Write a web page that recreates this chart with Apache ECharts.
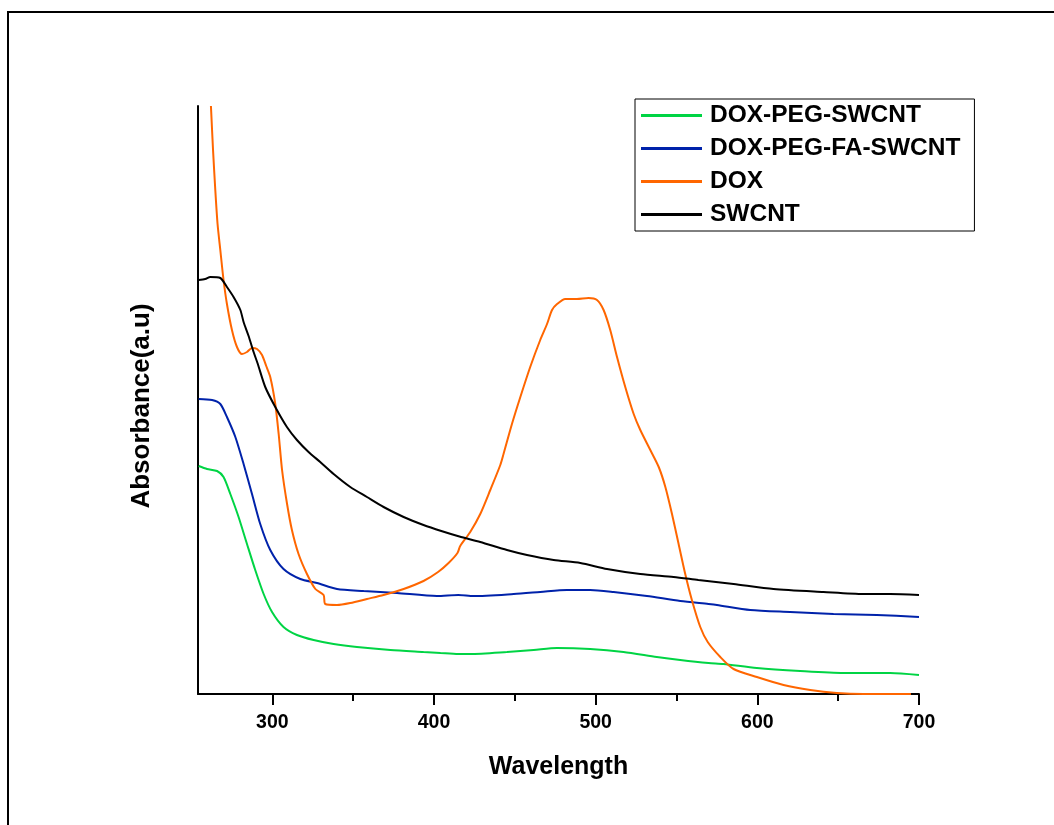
<!DOCTYPE html>
<html>
<head>
<meta charset="utf-8">
<script src="https://cdn.jsdelivr.net/npm/echarts@6/dist/echarts.min.js"></script>
<style>
html,body{margin:0;padding:0;background:#fff;}
#chart{width:1054px;height:825px;}
</style>
</head>
<body>
<div id="chart"></div>
<script>
// ---- data ----
const seriesNames = ['DOX-PEG-SWCNT', 'DOX-PEG-FA-SWCNT', 'DOX', 'SWCNT'];
const xTickLabels = [300, 400, 500, 600, 700];
const xMinorTicks = [350, 450, 550, 650];

const pegW = [254.4,259.6,265.8,269.8,274.0,279.1,284.3,289.4,294.6,299.8,306.9,315.2,325.5,337.9,352.3,373.0,393.5,404,415,422.4,445.1,461.6,476.1,496.6,517.2,537.8,552.3,569.8,579.1,599.7,626.5,653.3,682.2,700];
const pegA = [2.28,2.25,2.23,2.17,2.00,1.77,1.50,1.24,1.00,0.82,0.67,0.59,0.54,0.50,0.47,0.44,0.42,0.41,0.40,0.40,0.42,0.44,0.46,0.45,0.42,0.37,0.34,0.31,0.30,0.26,0.23,0.21,0.21,0.19];

const faW = [254.4,262.7,267.8,271.9,277.1,282.2,287.4,292.5,298.7,306.9,317.3,327.6,340.0,356.5,377.1,401.8,415,424.5,449.3,465.7,482.2,496.6,511.1,531.7,552.3,569.8,575.0,595.6,620.3,647.1,673.9,700];
const faA = [2.95,2.94,2.90,2.77,2.57,2.30,2.00,1.70,1.44,1.25,1.15,1.11,1.05,1.03,1.01,0.98,0.99,0.98,1.00,1.02,1.04,1.04,1.02,0.98,0.93,0.90,0.89,0.84,0.82,0.80,0.79,0.77];

const doxW = [262.0,263.3,264.7,266.1,267.8,269.8,271.9,275.0,278.1,281.2,284.3,287.4,290.5,293.6,296.2,298.7,301.8,303.9,306.0,309.1,312.1,316.2,321.4,326.6,331.7,332.7,340.0,348.2,358.5,368.8,381.2,393.5,402.5,409,414.5,416.2,422.4,428.6,434.8,441.0,443.0,448.2,453.4,459.5,465.7,469.9,473.0,476.1,481.2,488.4,495.6,500.8,504.9,509.0,513.2,518.3,523.5,527.6,533.8,539.0,543.1,547.2,551.3,555.4,559.5,564.7,569.3,577.1,585.3,599.7,616.2,632.7,649.2,665.7,682.0,695.0];
const doxA = [5.88,5.44,5.04,4.70,4.44,4.14,3.90,3.64,3.47,3.40,3.42,3.46,3.45,3.39,3.28,3.17,2.90,2.60,2.24,1.90,1.64,1.40,1.20,1.05,0.99,0.90,0.89,0.91,0.95,0.99,1.05,1.13,1.22,1.31,1.41,1.48,1.62,1.80,2.04,2.29,2.40,2.70,2.97,3.27,3.54,3.70,3.84,3.90,3.95,3.95,3.96,3.94,3.84,3.64,3.37,3.07,2.80,2.64,2.44,2.27,2.07,1.80,1.50,1.20,0.94,0.67,0.52,0.37,0.25,0.17,0.09,0.04,0.01,0.00,0.00,0.00];

const swW = [254.4,258.5,261.6,267.8,271.9,276.0,280.2,282.2,285.3,288.4,291.0,295.6,301.8,309.0,315.2,322.4,329.6,337.9,348.2,358.5,368.8,381.2,393.5,404.5,415.7,428.6,445.1,457.5,474.0,490.5,507.0,527.6,548.2,563.5,585.3,610.0,640.9,665.7,682.2,700];
const swA = [4.14,4.15,4.17,4.16,4.07,3.97,3.84,3.72,3.58,3.42,3.30,3.07,2.87,2.67,2.54,2.42,2.32,2.20,2.07,1.97,1.87,1.77,1.69,1.63,1.575,1.52,1.44,1.39,1.34,1.31,1.25,1.20,1.17,1.14,1.10,1.05,1.02,1.00,1.00,0.99];

const xMin = 254, xMax = 700, yMin = 0, yMax = 5.88;

function zip(w, a) { return w.map((x, i) => [x, a[i]]); }

const colors = ['#00d444', '#0022aa', '#ff6600', '#000000'];
const dataSets = [zip(pegW, pegA), zip(faW, faA), zip(doxW, doxA), zip(swW, swA)];

const FONT = '"Liberation Sans", Arial, sans-serif';

const chart = echarts.init(document.getElementById('chart'), null, {renderer: 'canvas'});
chart.setOption({
  animation: false,
  backgroundColor: '#ffffff',
  grid: {left: 198, right: 135, top: 106, bottom: 131, containLabel: false},
  legend: {
    orient: 'vertical',
    left: 635, top: 99,
    padding: [0, 14, 0, 6],
    itemGap: 0,
    itemWidth: 61, itemHeight: 3,
    icon: 'rect',
    borderColor: '#000', borderWidth: 1,
    selectedMode: false,
    data: seriesNames,
    textStyle: {fontFamily: FONT, fontSize: 24.5, fontWeight: 'bold', color: '#000', lineHeight: 33, padding: [0, 0, 0, 3]}
  },
  xAxis: [{
    type: 'value', min: xMin, max: xMax,
    name: 'Wavelength', nameLocation: 'middle', nameGap: 61,
    nameTextStyle: {fontFamily: FONT, fontSize: 25, fontWeight: 'bold', color: '#000'},
    axisLine: {show: true, onZero: false, lineStyle: {color: '#000', width: 2}},
    axisTick: {show: true, inside: false, length: 11, lineStyle: {color: '#000', width: 2}, customValues: xTickLabels},
    axisLabel: {show: true, margin: 19, customValues: xTickLabels, fontFamily: FONT, fontSize: 19.5, fontWeight: 'bold', color: '#000'},
    splitLine: {show: false}
  }, {
    type: 'value', min: xMin, max: xMax, position: 'bottom', gridIndex: 0,
    axisLine: {show: false},
    axisTick: {show: true, inside: false, length: 7, lineStyle: {color: '#000', width: 2}, customValues: xMinorTicks},
    axisLabel: {show: false},
    splitLine: {show: false}
  }],
  yAxis: {
    type: 'value', min: yMin, max: yMax,
    name: 'Absorbance(a.u)', nameLocation: 'middle', nameGap: 43,
    nameTextStyle: {fontFamily: FONT, fontSize: 26, fontWeight: 'bold', color: '#000', padding: [0, 12, 0, 0]},
    axisLine: {show: true, onZero: false, lineStyle: {color: '#000', width: 2}},
    axisTick: {show: false},
    axisLabel: {show: false},
    splitLine: {show: false}
  },
  series: seriesNames.map((n, i) => ({
    name: n, type: 'line', xAxisIndex: 0,
    data: dataSets[i],
    showSymbol: false, symbol: 'none',
    smooth: 0.25,
    clip: true,
    color: colors[i],
    lineStyle: {color: colors[i], width: 2}
  })),
  graphic: [{
    type: 'polyline',
    shape: {points: [[8, 826], [8, 12], [1054, 12]]},
    style: {stroke: '#000', lineWidth: 2, fill: null},
    silent: true
  }]
});
</script>
</body>
</html>
